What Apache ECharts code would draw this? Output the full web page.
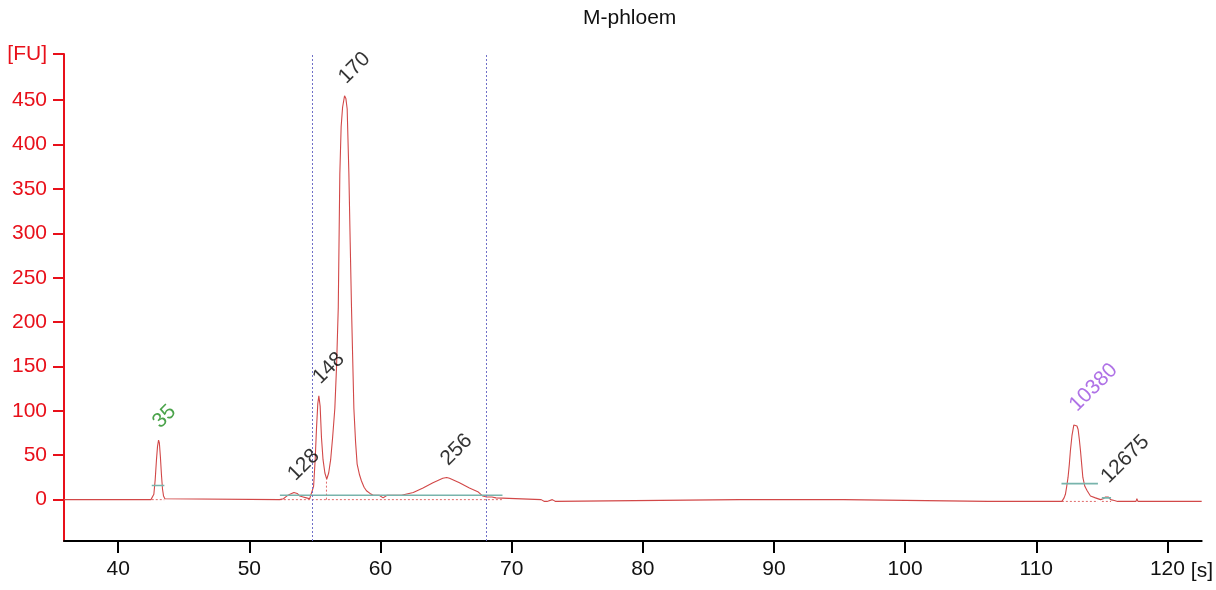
<!DOCTYPE html>
<html><head><meta charset="utf-8">
<script src="https://cdn.jsdelivr.net/npm/echarts@6/dist/echarts.min.js"></script>
<style>html,body{margin:0;padding:0;background:#fff}#c{width:1216px;height:590px}</style>
</head><body><div id="c"></div>
<script>
// ---- data ----
const title = 'M-phloem';
const xTicks = [40, 50, 60, 70, 80, 90, 100, 110, 120];
const yTicks = [0, 50, 100, 150, 200, 250, 300, 350, 400, 450, 502];
const xRange = [35.87, 122.61];
const yRange = [-46.6, 502];

const traceTime = [
  35.87,42.5,42.62,42.72,42.82,42.92,43.0,43.08,43.14,43.22,43.3,43.38,43.46,43.56,43.65,
  52.3,52.6,52.85,53.1,53.4,53.65,53.85,54.1,54.35,54.6,
  54.75,54.9,55.02,55.12,55.22,55.3,55.4,55.5,55.62,55.76,
  55.9,56.05,56.2,56.35,56.52,56.65,56.78,56.9,57.0,57.11,
  57.26,57.36,57.46,57.59,57.69,57.79,57.97,58.1,58.22,58.4,
  58.55,58.75,58.93,59.2,59.44,59.9,60.05,60.2,60.35,60.5,
  61.6,61.75,62.5,63.24,64.0,64.75,65.05,65.26,66.02,66.78,
  67.42,67.8,68.1,68.5,68.8,68.9,
  72.25,72.3,72.5,72.55,72.65,72.7,72.75,73.1,73.15,73.35,73.4,87.35,87.45,87.55,95.3,95.38,
  106.3,106.36,106.42,107.35,107.4,107.45,107.75,107.8,107.85,108.15,108.2,108.25,108.75,108.8,108.85,
  110.15,110.2,110.25,110.75,110.8,110.85,111.25,111.3,111.35,111.65,111.7,111.75,
  111.95,112.02,112.12,112.22,112.32,112.42,112.52,112.6,112.72,112.86,
  112.98,113.1,113.19,113.28,113.37,113.46,113.55,113.7,113.88,114.13,
  114.51,114.9,115.1,115.28,115.4,115.5,115.66,115.8,115.95,116.2,
  117.6,117.67,117.75,122.61
];
const traceFU = [
  0,0,1,6,22,45,60,67,64,48,28,12,4,1,0,
  0,1,4,6,8,7,4,3,2,1,
  3,15,45,80,108,117,105,70,45,30,
  23,30,45,70,103,150,216,367,420,442,
  455,452,440,367,290,216,103,65,40,28,
  21,14,10,7,5,5,3,2,4,5,
  5,7,8,13,19,24,25,24,19,13,
  9,4,3,3,2,0,
  0,-2,-2,0,0,-2,0,0,-2,-2,0,0,-2,0,0,-2,
  -2,0,-2,-2,0,-2,-2,0,-2,-2,0,-2,-2,0,-2,
  -2,0,-2,-2,0,-2,-2,0,-2,-2,0,-2,
  -2,0,2,6,15,25,40,55,72,84,
  86,83,79,68,55,40,25,15,10,4,
  2,0,1,3,5,3,0,1,-1,-2,
  -2,1,-2,-2
];

// peak labels
const peakTime  = [43.08, 53.4, 55.3, 57.26, 65.05, 112.98, 115.4];
const peakFU    = [67, 8, 117, 455, 25, 86, 5];
const peakText  = ['35', '128', '148', '170', '256', '10380', '12675'];
const peakColor = ['#1e8c1e', '#000000', '#000000', '#000000', '#000000', '#9b4fe0', '#000000'];

// teal peak-baseline segments
const tealStart = [42.56, 52.33, 111.92, 115.0];
const tealEnd   = [43.52, 69.3, 114.7, 115.7];
const tealLevel = [16, 5, 18, 2];

// red dotted baseline segments [x1, y1, x2, y2]
const dotX1 = [42.56, 52.33, 55.88, 111.95, 115.0];
const dotY1 = [0, 0, 0, -2, -2];
const dotX2 = [43.52, 69.3, 55.88, 114.7, 115.7];
const dotY2 = [0, 0, 23, -2, -2];

// region markers (vertical dotted lines)
const markerTime = [54.77, 68.05];

// ---- chart ----
const FONT = 'Liberation Sans';
const series = [];
series.push({
  type: 'line', data: traceTime.map((t, i) => [t, traceFU[i]]),
  showSymbol: false, symbol: 'none', lineStyle: { color: '#d24848', width: 1.1 },
  z: 3,
  markLine: {
    silent: true, symbol: ['none', 'none'], label: { show: false },
    lineStyle: { color: '#7070c8', type: [2, 2], width: 1 },
    data: markerTime.map(t => ({ xAxis: t }))
  }
});
tealStart.forEach((s, i) => series.push({
  type: 'line', data: [[s, tealLevel[i]], [tealEnd[i], tealLevel[i]]],
  symbol: 'none', lineStyle: { color: '#78b4ac', width: 1.6 }, z: 4
}));
dotX1.forEach((s, i) => series.push({
  type: 'line', data: [[s, dotY1[i]], [dotX2[i], dotY2[i]]],
  symbol: 'none', lineStyle: { color: '#e06a6a', width: 1, type: [2, 2] }, z: 2
}));
series.push({
  type: 'scatter', symbolSize: 0, z: 6,
  data: peakTime.map((t, i) => ({
    value: [t, peakFU[i]],
    label: { formatter: peakText[i], color: peakColor[i] }
  })),
  label: {
    show: true, position: [0, 0], rotate: 45, align: 'left', verticalAlign: 'bottom',
    offset: [9, -2], fontFamily: FONT, fontSize: 21
  }
});

const chart = echarts.init(document.getElementById('c'), null, { renderer: 'canvas' });
chart.setOption({
  animation: false,
  backgroundColor: '#ffffff',
  title: {
    text: title, left: 578, top: 3,
    textStyle: { fontFamily: FONT, fontSize: 21, fontWeight: 'normal', color: '#111' }
  },
  grid: { left: 64, right: 13, top: 54, bottom: 49 },
  xAxis: {
    type: 'value', min: xRange[0], max: xRange[1],
    name: '[s]', nameLocation: 'end', nameGap: -15,
    nameTextStyle: { fontFamily: FONT, fontSize: 21, color: '#111', align: 'left', verticalAlign: 'top', padding: [20, 0, 0, 0] },
    axisLine: { onZero: false, lineStyle: { color: '#000', width: 2 } },
    axisTick: { show: true, length: 12, lineStyle: { color: '#000', width: 2 }, customValues: xTicks },
    axisLabel: { customValues: xTicks, margin: 18, fontFamily: FONT, fontSize: 21, color: '#111' },
    splitLine: { show: false }
  },
  yAxis: {
    type: 'value', min: yRange[0], max: yRange[1],
    axisLine: { show: true, onZero: false, lineStyle: { color: '#e8101a', width: 2 } },
    axisTick: { show: true, length: 11, lineStyle: { color: '#e8101a', width: 2 }, customValues: yTicks },
    axisLabel: {
      customValues: yTicks, margin: 17, fontFamily: FONT, fontSize: 21, color: '#e8101a',
      formatter: v => (v > 480 ? '[FU]' : String(v))
    },
    splitLine: { show: false }
  },
  series
});
</script>
</body></html>
